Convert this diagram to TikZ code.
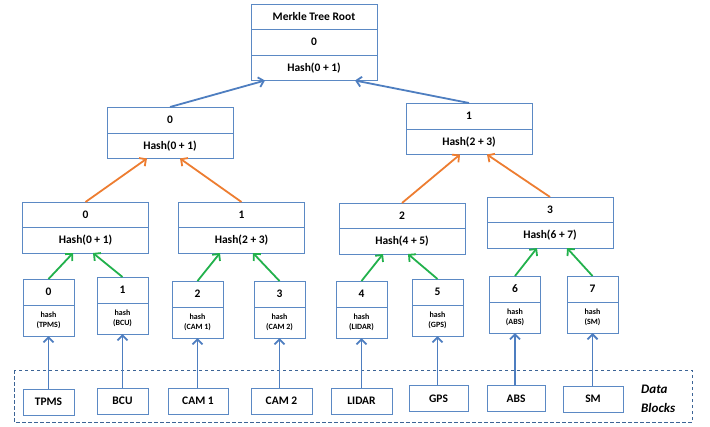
\documentclass[tikz,border=0pt]{standalone}
\usepackage{fontspec}
\setmainfont{Carlito}
\usetikzlibrary{arrows.meta, positioning}

\definecolor{boxblue}{RGB}{91,137,196}
\definecolor{arrowblue}{RGB}{78,126,192}
\definecolor{frameblue}{RGB}{60,100,150}
\definecolor{arrowgreen}{RGB}{34,177,76}
\definecolor{arroworange}{RGB}{237,125,49}

\begin{document}
\begin{tikzpicture}[x=1pt, y=-1pt,
	cell/.style={draw=boxblue, line width=1pt, outer sep=0pt, inner sep=0pt,
		minimum width=126pt, minimum height=25.5pt,
		font=\bfseries\fontsize{11.5}{13}\selectfont},
	leafcell/.style={cell, minimum width=51pt, minimum height=26pt},
	leafhash/.style={leafcell, minimum height=31pt, align=center,
		font=\bfseries\fontsize{8}{10.5}\selectfont},
	datablock/.style={draw=boxblue, line width=1pt, inner sep=0pt,
		minimum height=26pt, font=\bfseries\fontsize{11.5}{13}\selectfont},
	up/.style={-{Straight Barb[length=5pt, width=10pt]}, line width=1.8pt}]
	
	\useasboundingbox (0,0) rectangle (710,426);
	
	% --- 1. Root of the tree ---
	\node[cell, anchor=north] (rootT) at (314,4) {Merkle Tree Root};
	\node[cell, below=0pt of rootT] (rootV) {0};
	\node[cell, below=0pt of rootV] (rootH) {Hash(0 + 1)};
	
	% --- 2. First level below the root ---
	\node[cell, anchor=north, minimum height=26pt] (topAv) at (170,107) {0};
	\node[cell, below=0pt of topAv] (topAh) {Hash(0 + 1)};
	\node[cell, anchor=north, minimum height=26pt] (topBv) at (469,103) {1};
	\node[cell, below=0pt of topBv] (topBh) {Hash(2 + 3)};
	
	% --- 3. Second level (pairs of leaves) ---
	\foreach \i/\x/\y/\a/\b in {0/85.5/202/0/1, 1/241.5/202/2/3,
		2/402/203/4/5, 3/550/197/6/7} {
		\node[cell, anchor=north] (midv\i) at (\x,\y) {\i};
		\node[cell, below=0pt of midv\i] (midh\i) {Hash(\a\ + \b)};
	}
	
	% --- 4. Leaves: one hash per data block ---
	\foreach \i/\x/\y/\name in {0/48.5/279/TPMS, 1/122.5/277/BCU,
		2/197.5/281/CAM 1, 3/279.5/281/CAM 2, 4/361.5/281/LIDAR,
		5/437.5/279/GPS, 6/515/276/ABS, 7/592.5/276/SM} {
		\node[leafcell, anchor=north] (leafv\i) at (\x,\y) {\i};
		\node[leafhash, below=0pt of leafv\i] (leafh\i) {hash\\(\name)};
	}
	
	% --- 5. Data blocks in a dashed frame ---
	\draw[frameblue, line width=0.8pt, dash pattern=on 3.5pt off 2.5pt]
	(14,370) rectangle (692,422);
	\foreach \i/\x/\y/\w/\name in {0/48.5/402/51/TPMS, 1/122.5/401/51/BCU,
		2/198/401/60/CAM 1, 3/281.5/401/61/CAM 2, 4/361.5/401/61/LIDAR,
		5/438.5/398.5/59/GPS, 6/516/398.5/58/ABS, 7/593/399/60/SM} {
		\node[datablock, minimum width=\w pt] (data\i) at (\x,\y) {\name};
	}
	\node[anchor=west, align=left, inner sep=0pt,
	font=\bfseries\itshape\fontsize{13}{19}\selectfont] (blocks) at (641,399)
	{Data\\Blocks};
	
	% --- 6. Arrows going up the tree ---
	\foreach \i in {0,...,7} {
		\draw[up, arrowblue] (data\i.north -| leafh\i.south) -- (leafh\i.south);
	}
	\foreach \c/\p/\dx in {0/0/-12.5, 1/0/7.5, 2/1/-21.5, 3/1/11.5,
		4/2/-19, 5/2/6, 6/3/-13, 7/3/17} {
		\draw[up, arrowgreen] (leafv\c.north) -- ([xshift=\dx pt]midh\p.south);
	}
	\foreach \c/\p/\dx in {0/A/-23, 1/A/10, 2/B/-9, 3/B/18} {
		\draw[up, arroworange] (midv\c.north) -- ([xshift=\dx pt]top\p h.south);
	}
	\draw[up, arrowblue] (topAv.north) -- ([xshift=-49pt]rootH.south);
	\draw[up, arrowblue] (topBv.north) -- ([xshift=41pt]rootH.south);
	
\end{tikzpicture}
\end{document}
